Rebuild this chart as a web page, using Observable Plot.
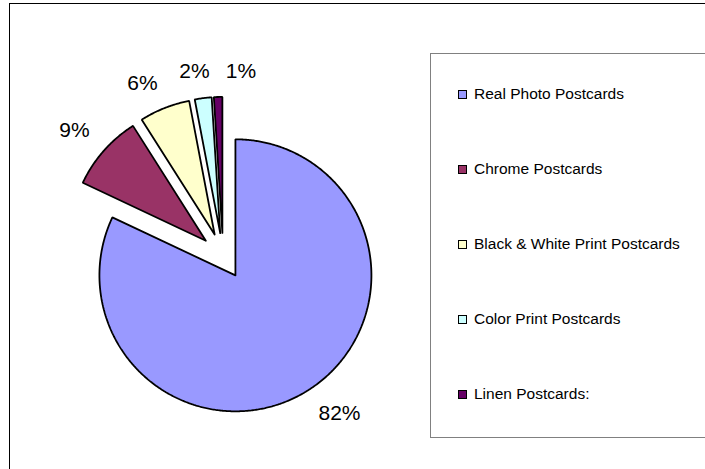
<!DOCTYPE html>
<html>
<head>
<meta charset="utf-8">
<script src="https://cdn.jsdelivr.net/npm/d3@7"></script>
<script src="https://cdn.jsdelivr.net/npm/@observablehq/plot@0.6"></script>
<style>
  body { margin: 0; background: #fff; }
  #chart { position: relative; width: 705px; height: 469px; overflow: hidden;
           font-family: "Liberation Sans", Arial, sans-serif; }
  #frame { position: absolute; left: 9px; top: 3px; width: 800px; height: 600px;
           border: 1.5px solid #000; }
  #plot { position: absolute; left: 0; top: 0; }
  #legend { position: absolute; left: 430px; top: 53px; width: 400px; height: 383px;
            border: 1.5px solid #808080; background: #fff; }
  .item { position: absolute; left: 27px; height: 18px; line-height: 18px;
          display: flex; align-items: center; font-size: 15.5px; color: #000; white-space: nowrap; }
  .sw { width: 7px; height: 7px; border: 1.5px solid #000; margin-right: 7px; flex: none; }
</style>
</head>
<body>
<div id="chart">
  <div id="frame"></div>
  <div id="plot"></div>
  <div id="legend"></div>
</div>
<script>
// Postcard types and their share of the collection
const categories = ["Real Photo Postcards", "Chrome Postcards", "Black & White Print Postcards", "Color Print Postcards", "Linen Postcards:"];
const shares = [82, 9, 6, 2, 1];
const percentLabels = ["82%", "9%", "6%", "2%", "1%"];
const colors = ["#9999FF", "#993366", "#FFFFCC", "#CCFFFF", "#660066"];

// Layout of the exploded pie (pixels)
const W = 705, H = 469;
const R = 136;                 // slice radius
const cx = 222.6, cy = 255.4;  // pie centre
const explode = 23 / R;        // outward shift of every slice, in radii
const labelGap = 19;           // px between arc and label anchor
const labelFont = 21;

const total = d3.sum(shares);
let cum = 0;
const slices = shares.map((v, i) => {
  const a0 = 2 * Math.PI * cum / total;
  cum += v;
  const a1 = 2 * Math.PI * cum / total;
  const mid = (a0 + a1) / 2;
  return {name: categories[i], label: percentLabels[i], a0, a1, mid,
          ox: explode * Math.sin(mid), oy: explode * Math.cos(mid)};
});

// Outline of each wedge: vertex, arc, back to vertex (angles clockwise from 12 o'clock)
const points = [];
for (const s of slices) {
  points.push({name: s.name, x: s.ox, y: s.oy});
  const n = Math.max(2, Math.ceil((s.a1 - s.a0) / (Math.PI / 360)));
  for (let k = 0; k <= n; k++) {
    const t = s.a0 + (s.a1 - s.a0) * k / n;
    points.push({name: s.name, x: s.ox + Math.sin(t), y: s.oy + Math.cos(t)});
  }
  points.push({name: s.name, x: s.ox, y: s.oy});
}

// Approximate half-size of a percentage label box
function halfWidth(text) {
  let w = 0;
  for (const ch of text) w += ch === "%" ? 0.889 : 0.556;
  return w * labelFont / 2;
}
// Which side of the box touches the anchor: -1..1, saturating away from the axes
const side = v => Math.max(-1, Math.min(1, v / 0.3));

// Percentage labels: box corner (or edge centre near the axes) sits just outside the arc;
// a label that would collide with the previous one is pushed clockwise
const placed = [];
const labels = slices.map(s => {
  const hw = halfWidth(s.label), hh = labelFont * 0.36;
  const vx = cx + R * s.ox, vy = cy - R * s.oy;
  let ang = s.mid, px, py;
  for (let step = 0; step < 180; step++) {
    const ux = Math.sin(ang), uy = -Math.cos(ang);
    px = vx + ux * (R + labelGap) + side(ux) * hw;
    py = vy + uy * (R + labelGap) + side(uy) * hh;
    const hit = placed.some(b => Math.abs(b.px - px) < b.hw + hw + 15 && Math.abs(b.py - py) < b.hh + hh);
    if (!hit) break;
    ang += Math.PI / 360;
  }
  placed.push({px, py, hw, hh});
  return {label: s.label, x: (px - cx) / R, y: (cy - py) / R};
});

const chart = Plot.plot({
  width: W, height: H, margin: 0,
  x: {domain: [-cx / R, (W - cx) / R], axis: null},
  y: {domain: [-(H - cy) / R, cy / R], axis: null},
  color: {domain: categories, range: colors},
  style: {background: "transparent", fontFamily: "Liberation Sans, Arial, sans-serif", overflow: "visible"},
  marks: [
    Plot.line(points, {x: "x", y: "y", z: "name", fill: "name", stroke: "#000",
                       strokeWidth: 1.8, strokeLinejoin: "miter", strokeOpacity: 1}),
    Plot.text(labels, {x: "x", y: "y", text: "label", fontSize: labelFont, fill: "#000"})
  ]
});
document.getElementById("plot").appendChild(chart);

// Legend
const legend = d3.select("#legend");
const itemTop = [31, 106, 181, 256, 331];
categories.forEach((c, i) => {
  const it = legend.append("div").attr("class", "item").style("top", itemTop[i] + "px");
  it.append("div").attr("class", "sw").style("background", colors[i]);
  it.append("span").text(c);
});
</script>
</body>
</html>
